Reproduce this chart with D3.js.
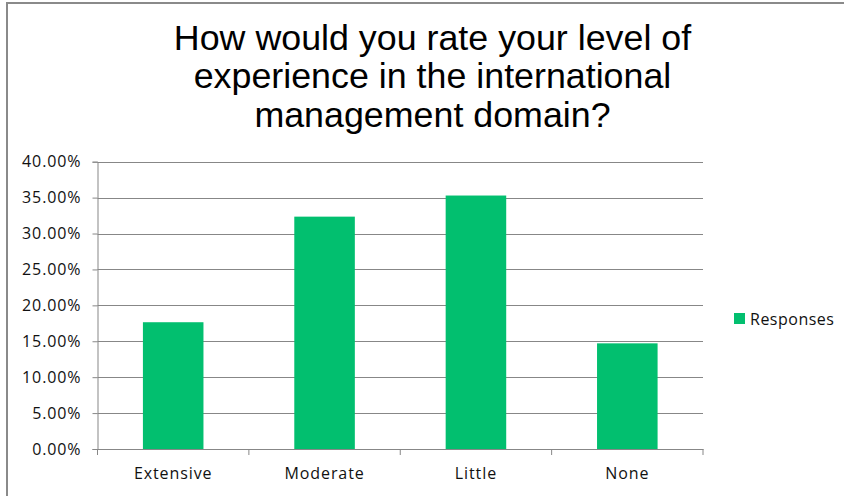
<!DOCTYPE html>
<html>
<head>
<meta charset="utf-8">
<script src="https://cdn.jsdelivr.net/npm/d3@7"></script>
<style>
  body { margin: 0; background: #fff; }
  svg { display: block; }
</style>
</head>
<body>
<div id="viz"></div>
<script>
// chart data
const categories = ['Extensive', 'Moderate', 'Little', 'None'];
const responses = [17.65, 32.35, 35.29, 14.71];
const yTicks = [0, 5, 10, 15, 20, 25, 30, 35, 40];
const titleLines = ['How would you rate your level of', 'experience in the international', 'management domain?'];
const seriesName = 'Responses';

const W = 844, H = 496;
const plot = {left: 97.5, right: 703, top: 161.7, bottom: 449};
const BAR = '#02bf6f';
const GRID = '#878787';
const LABEL_FONT = 'Open Sans, sans-serif';

let svg = d3.select('#viz').append('svg')
    .attr('width', W)
    .attr('height', H);

// outer frame (cut off at right and bottom)
svg.append('rect')
    .attr('x', 7).attr('y', 3)
    .attr('width', W + 20).attr('height', H + 20)
    .attr('fill', 'none')
    .attr('stroke', '#8a8a8a')
    .attr('stroke-width', 2);

// title
svg.append('text')
    .attr('text-anchor', 'middle')
    .attr('font-family', 'Liberation Sans, Arial, sans-serif')
    .attr('font-size', 35.8)
    .attr('fill', '#000')
    .selectAll('tspan')
    .data(titleLines)
    .enter()
    .append('tspan')
    .attr('x', 432.5)
    .attr('y', (d, i) => 49.5 + i * 38.5)
    .text(d => d);

let x = d3.scaleBand()
    .domain(categories)
    .range([plot.left, plot.right]);

let y = d3.scaleLinear()
    .domain([0, 40])
    .range([plot.bottom, plot.top]);

// gridlines
svg.append('g')
    .selectAll('line')
    .data(yTicks.filter(d => d > 0))
    .enter()
    .append('line')
    .attr('x1', plot.left)
    .attr('x2', plot.right)
    .attr('y1', d => Math.round(y(d)) + 0.5)
    .attr('y2', d => Math.round(y(d)) + 0.5)
    .attr('stroke', GRID)
    .attr('stroke-width', 1);

// bars
let barW = x.bandwidth() * 0.4;
svg.append('g')
    .selectAll('rect')
    .data(responses)
    .enter()
    .append('rect')
    .attr('x', (d, i) => x(categories[i]) + (x.bandwidth() - barW) / 2)
    .attr('y', d => y(d))
    .attr('width', barW)
    .attr('height', d => y(0) - y(d))
    .attr('fill', BAR);

// y axis
let yAxis = svg.append('g')
    .attr('transform', `translate(${plot.left},0)`)
    .call(d3.axisLeft(y)
        .tickValues(yTicks)
        .tickSize(5)
        .tickPadding(11)
        .tickFormat(d => d.toFixed(2) + '%'));

// x axis with ticks at band edges
let xAxis = svg.append('g')
    .attr('transform', `translate(0,${plot.bottom})`)
    .call(d3.axisBottom(x).tickSize(0).tickPadding(19));

xAxis.selectAll('.edge')
    .data(categories.map(c => x(c)).concat([plot.right]))
    .enter()
    .append('line')
    .attr('class', 'edge')
    .attr('x1', d => d).attr('x2', d => d)
    .attr('y1', 0).attr('y2', 6)
    .attr('stroke', GRID);

[yAxis, xAxis].forEach(g => {
    g.select('.domain').attr('stroke', GRID);
    g.selectAll('.tick line').attr('stroke', GRID);
    g.selectAll('text')
        .attr('font-family', LABEL_FONT)
        .attr('font-size', 16)
        .attr('letter-spacing', 0.9)
        .attr('fill', '#111');
});

// legend
let legend = svg.append('g').attr('transform', 'translate(734,313)');
legend.append('rect')
    .attr('width', 11).attr('height', 11)
    .attr('fill', BAR);
legend.append('text')
    .attr('x', 16).attr('y', 11.5)
    .attr('font-family', LABEL_FONT)
    .attr('font-size', 16)
    .attr('letter-spacing', 0.5)
    .attr('fill', '#111')
    .text(seriesName);
</script>
</body>
</html>
